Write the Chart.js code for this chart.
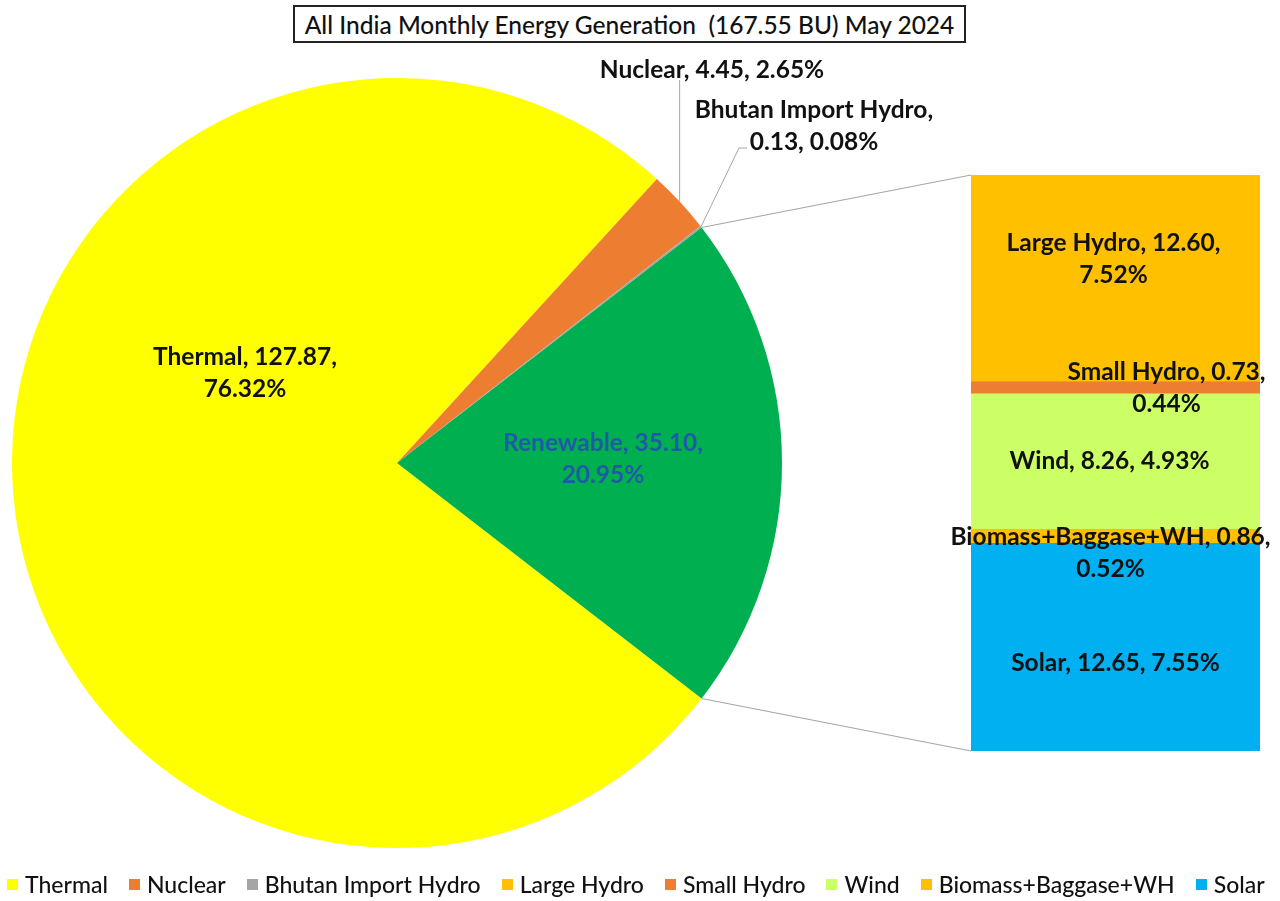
<!DOCTYPE html>
<html><head><meta charset="utf-8">
<script src="https://cdn.jsdelivr.net/npm/chart.js@4.4.1/dist/chart.umd.min.js"></script>
<style>
html,body{margin:0;padding:0;background:#fff;width:1280px;height:901px;overflow:hidden;font-family:Lato,"Open Sans",sans-serif}
#wrap{position:relative;width:1280px;height:901px}
canvas{position:absolute;left:0;top:0}
#title{position:absolute;left:293px;top:5px;width:673px;height:38px;border:2px solid #222;box-sizing:border-box;
  display:flex;align-items:center;justify-content:center;font:500 24.5px Lato,sans-serif;color:#111;white-space:pre;background:#fff}
#legend{position:absolute;top:872px;left:7px;height:24px;display:flex;align-items:center;font:500 23px Lato,sans-serif;color:#111;white-space:nowrap}
#legend .it{display:flex;align-items:center;margin-right:21px}
#legend .sw{width:11px;height:11px;margin-right:7px}
</style></head>
<body><div id="wrap">
<canvas id="pie" width="1280" height="901"></canvas>
<canvas id="bar" width="1280" height="901"></canvas>
<div id="title"></div>
<div id="legend"></div>
</div>
<script>
// ---- data ----
const titleText = 'All India Monthly Energy Generation  (167.55 BU) May 2024';
const pieLabels = ['Thermal', 'Nuclear', 'Bhutan Import Hydro', 'Renewable'];
const pieValues = [127.87, 4.45, 0.13, 35.10];
const piePercents = ['76.32%', '2.65%', '0.08%', '20.95%'];
const pieColors = ['#FFFF00', '#ED7D31', '#A5A5A5', '#00B050'];
const barLabels = ['Large Hydro', 'Small Hydro', 'Wind', 'Biomass+Baggase+WH', 'Solar'];
const barValues = [12.60, 0.73, 8.26, 0.86, 12.65];
const barPercents = ['7.52%', '0.44%', '4.93%', '0.52%', '7.55%'];
const barColors = ['#FFC000', '#ED7D31', '#CCFF66', '#FFC000', '#00B0F0'];

// ---- label layout (offsets only) ----
const LABEL_FONT = 'bold 24.5px Lato, sans-serif';
const LINE_H = 32;
const pieLayout = [
  {dx: -152, dy: -90, split: 'pct', color: '#111'},
  {dx: 315, dy: -393, split: null, color: '#111', leader: 'vertical', leaderTo: -383},
  {dx: 417, dy: -337, split: 'name', color: '#111', leader: [[342, -315], [350, -315]]},
  {dx: 206, dy: -4, split: 'pct', color: '#1F5AA8'}
];
const barLayout = [
  {dx: -2, dy: -19, split: 'pct'},
  {dx: 51, dy: 0, split: 'pct'},
  {dx: -6, dy: 0, split: null},
  {dx: -5, dy: 17, split: 'pct'},
  {dx: 0, dy: 16, split: null}
];

function labelLines(name, val, pct, split) {
  const v = val.toFixed(2);
  if (split === 'pct') return [name + ', ' + v + ',', pct];
  if (split === 'name') return [name + ',', v + ', ' + pct];
  return [name + ', ' + v + ', ' + pct];
}
function drawLines(ctx, lines, x, y, color) {
  ctx.save();
  ctx.font = LABEL_FONT; ctx.fillStyle = color || '#111';
  ctx.textAlign = 'center'; ctx.textBaseline = 'middle';
  const y0 = y - (lines.length - 1) * LINE_H / 2;
  lines.forEach((t, i) => ctx.fillText(t, x, y0 + i * LINE_H));
  ctx.restore();
}

// ---- pie ----
const pieTotal = pieValues.reduce((a, b) => a + b, 0);
const renewIdx = 3;
const rotation = 90 + (pieValues[renewIdx] / pieTotal) * 180; // centre renewable slice on the right

const pieLabelPlugin = {
  id: 'pieLabels',
  afterDatasetsDraw(chart) {
    const ctx = chart.ctx;
    chart.getDatasetMeta(0).data.forEach((arc, i) => {
      const L = pieLayout[i];
      const cx = arc.x, cy = arc.y, r = arc.outerRadius;
      if (L.leader) {
        const mid = (arc.startAngle + arc.endAngle) / 2;
        const px = cx + r * Math.cos(mid), py = cy + r * Math.sin(mid);
        ctx.save(); ctx.strokeStyle = '#A6A6A6'; ctx.lineWidth = 1;
        ctx.beginPath(); ctx.moveTo(px, py);
        if (L.leader === 'vertical') ctx.lineTo(px, cy + L.leaderTo);
        else L.leader.forEach(p => ctx.lineTo(cx + p[0], cy + p[1]));
        ctx.stroke(); ctx.restore();
      }
      drawLines(ctx, labelLines(pieLabels[i], pieValues[i], piePercents[i], L.split), cx + L.dx, cy + L.dy, L.color);
    });
  }
};

const pieChart = new Chart(document.getElementById('pie'), {
  type: 'pie',
  data: {labels: pieLabels, datasets: [{data: pieValues, backgroundColor: pieColors, borderWidth: 0}]},
  options: {
    responsive: false, animation: false, devicePixelRatio: 1,
    rotation: rotation,
    layout: {padding: {left: 12, right: 498, top: 78, bottom: 53}},
    plugins: {legend: {display: false}, tooltip: {enabled: false}}
  },
  plugins: [pieLabelPlugin]
});

// ---- bar of pie ----
const stackOrder = barLabels.map((_, i) => i).reverse(); // bottom-up
const barTotal = barValues.reduce((a, b) => a + b, 0);

const barPlugin = {
  id: 'barExtras',
  afterDatasetsDraw(chart) {
    const ctx = chart.ctx, ca = chart.chartArea;
    const arc = pieChart.getDatasetMeta(0).data[renewIdx];
    const r = arc.outerRadius;
    const sx = arc.x + r * Math.cos(arc.startAngle), sy = arc.y + r * Math.sin(arc.startAngle);
    const ex = arc.x + r * Math.cos(arc.endAngle), ey = arc.y + r * Math.sin(arc.endAngle);
    ctx.save(); ctx.strokeStyle = '#A6A6A6'; ctx.lineWidth = 1.2;
    ctx.beginPath(); ctx.moveTo(sx, sy); ctx.lineTo(ca.left, ca.top);
    ctx.moveTo(ex, ey); ctx.lineTo(ca.left, ca.bottom); ctx.stroke(); ctx.restore();
    chart.data.datasets.forEach((ds, di) => {
      const i = ds.srcIndex;
      const el = chart.getDatasetMeta(di).data[0];
      const L = barLayout[i];
      const cy = (el.y + el.base) / 2;
      drawLines(ctx, labelLines(barLabels[i], barValues[i], barPercents[i], L.split), el.x + L.dx, cy + L.dy, '#111');
    });
  }
};

const barChart = new Chart(document.getElementById('bar'), {
  type: 'bar',
  data: {
    labels: ['Renewable'],
    datasets: stackOrder.map(i => ({
      label: barLabels[i], srcIndex: i, data: [barValues[i]],
      backgroundColor: barColors[i], borderWidth: 0,
      barPercentage: 1, categoryPercentage: 1
    }))
  },
  options: {
    responsive: false, animation: false, devicePixelRatio: 1,
    layout: {padding: {left: 971, right: 20, top: 175, bottom: 150}},
    scales: {
      x: {stacked: true, display: false},
      y: {stacked: true, display: false, min: 0, max: barTotal}
    },
    plugins: {legend: {display: false}, tooltip: {enabled: false}}
  },
  plugins: [barPlugin]
});

// ---- title & legend ----
document.getElementById('title').textContent = titleText;
const legendItems = [];
pieLabels.forEach((l, i) => { if (i !== renewIdx) legendItems.push([l, pieColors[i]]); });
barLabels.forEach((l, i) => legendItems.push([l, barColors[i]]));
const leg = document.getElementById('legend');
legendItems.forEach(([l, c]) => {
  const it = document.createElement('div'); it.className = 'it';
  const sw = document.createElement('span'); sw.className = 'sw'; sw.style.background = c;
  const tx = document.createElement('span'); tx.textContent = l;
  it.appendChild(sw); it.appendChild(tx); leg.appendChild(it);
});
</script>
</body></html>
